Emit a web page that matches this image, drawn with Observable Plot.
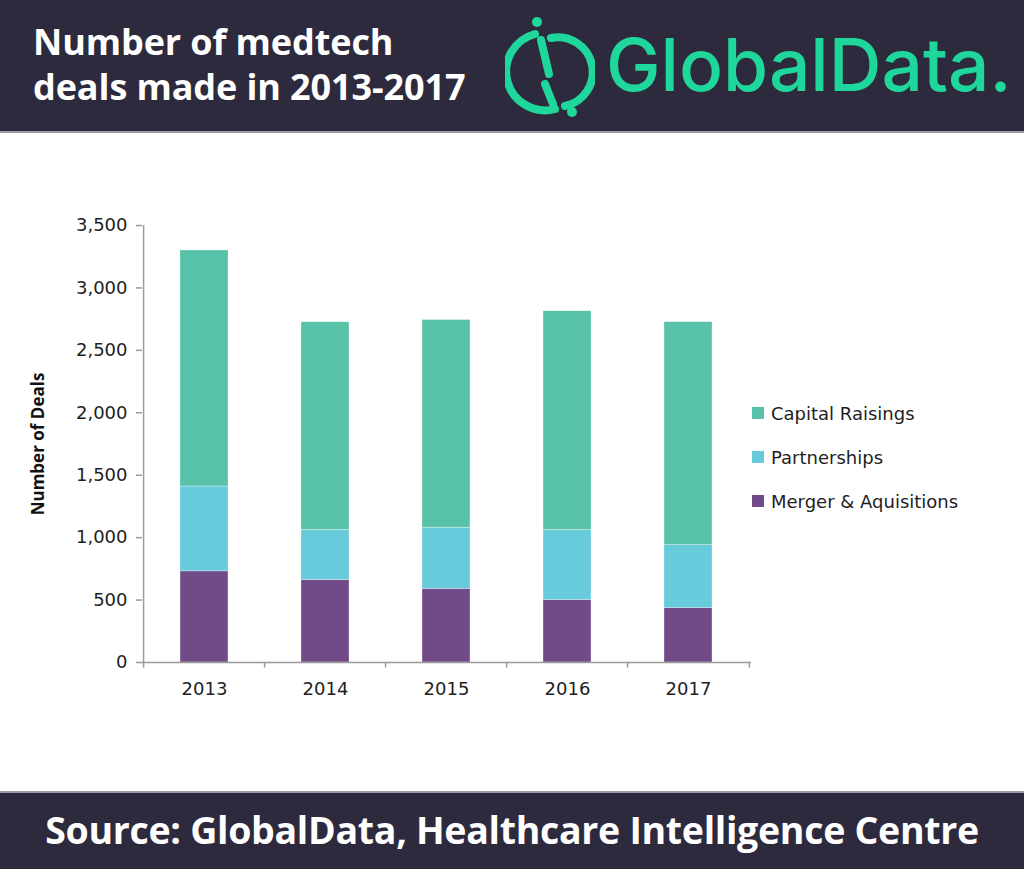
<!DOCTYPE html>
<html>
<head>
<meta charset="utf-8">
<script src="https://cdn.jsdelivr.net/npm/d3@7"></script>
<script src="https://cdn.jsdelivr.net/npm/@observablehq/plot@0.6"></script>
<style>
  html, body { margin: 0; padding: 0; background: #fff; }
  #page { position: relative; width: 1024px; height: 869px; overflow: hidden; font-family: "Open Sans", sans-serif; }
  #header { position: absolute; left: 0; top: 0; width: 1024px; height: 133px; background: #2d2a3e; border-bottom: 2px solid #9c9aa6; box-sizing: border-box; }
  .tline { position: absolute; left: 33px; color: #fff; font-weight: 700; font-size: 36px; line-height: 40px; height: 40px; letter-spacing: -0.1px; white-space: nowrap; }
  #t1 { top: 22px; }
  #t2 { top: 67px; }
  #logoText { position: absolute; left: 606px; top: 20px; color: #1fd69b; font-family: Inter, sans-serif; font-weight: 500; font-size: 73px; letter-spacing: 0px; line-height: 90px; }
  #logoIcon { position: absolute; left: 505px; top: 12px; }
  #footer { position: absolute; left: 0; top: 791px; width: 1024px; height: 78px; background: #2d2a3e; border-top: 2px solid #9c9aa6; box-sizing: border-box; color: #fff; font-weight: 700; font-size: 37.5px; text-align: center; line-height: 74px; letter-spacing: -0.3px; }
  #chart { position: absolute; left: 0; top: 133px; }
  #legend { position: absolute; left: 752px; top: 391px; font-size: 18px; color: #1e1e1e; font-family: "DejaVu Sans", sans-serif; }
  .item { display: flex; align-items: center; height: 44px; }
  .sw { width: 12px; height: 12px; margin-right: 7px; }
</style>
</head>
<body>
<div id="page">
  <div id="header">
    <div class="tline" id="t1">Number of medtech</div>
    <div class="tline" id="t2">deals made in 2013-2017</div>
    <svg id="logoIcon" width="90" height="110" viewBox="0 0 90 110">
      <path d="M 30 22 A 33 33 0 0 0 50 97" fill="none" stroke="#1fd69b" stroke-width="8" stroke-linecap="round"/>
      <path d="M 46 26 A 33 33 0 0 1 60 94" fill="none" stroke="#1fd69b" stroke-width="8" stroke-linecap="round"/>
      <path d="M 36 28 L 44 62" fill="none" stroke="#1fd69b" stroke-width="8" stroke-linecap="round"/>
      <path d="M 40 72 L 48 92" fill="none" stroke="#1fd69b" stroke-width="8" stroke-linecap="round"/>
      <circle cx="32" cy="10" r="5" fill="#1fd69b"/>
      <circle cx="67" cy="100" r="5" fill="#1fd69b"/>
    </svg>
    <div id="logoText">GlobalData.</div>
  </div>
  <div id="chart"></div>
  <div id="legend"></div>
  <div id="footer">Source: GlobalData, Healthcare Intelligence Centre</div>
</div>
<script>
const years = ["2013", "2014", "2015", "2016", "2017"];
const series = ["Capital Raisings", "Partnerships", "Merger & Aquisitions"];
const colors = ["#57c2a8", "#68cbdb", "#714b87"];
const mergers = [730, 660, 590, 500, 435];
const partnerships = [680, 402, 490, 562, 505];
const capitalRaisings = [1890, 1663, 1663, 1751, 1786];
const yTicks = [0, 500, 1000, 1500, 2000, 2500, 3000, 3500];

const rows = [];
years.forEach((y, i) => {
  rows.push({year: y, series: "Merger & Aquisitions", value: mergers[i]});
  rows.push({year: y, series: "Partnerships", value: partnerships[i]});
  rows.push({year: y, series: "Capital Raisings", value: capitalRaisings[i]});
});

const W = 1024, H = 658, mL = 142, mR = 273, mT = 92, mB = 129;
const step = (W - mL - mR) / years.length;
const stackOrder = ["Merger & Aquisitions", "Partnerships", "Capital Raisings"];

const chart = Plot.plot({
  width: W, height: H,
  marginLeft: mL, marginRight: mR, marginTop: mT, marginBottom: mB,
  style: {fontFamily: "'DejaVu Sans', sans-serif", fontSize: "18px", color: "#1e1e1e", background: "transparent"},
  x: {domain: years, paddingInner: 0.6, paddingOuter: 0.3},
  y: {domain: [0, 3500]},
  color: {domain: series, range: colors},
  marks: [
    Plot.barY(rows, {x: "year", y: "value", fill: "series", order: stackOrder, stroke: "#ffffff", strokeWidth: 0.6, strokeOpacity: 0.5}),
    Plot.ruleX([years[0]], {dx: -step / 2, y1: 0, y2: 3500, stroke: "#9a9a9a", strokeWidth: 1.5}),
    Plot.ruleY([0], {stroke: "#9a9a9a", strokeWidth: 1.5}),
    Plot.ruleX(years, {dx: -step / 2, y1: 0, y2: -45, stroke: "#9a9a9a", strokeWidth: 1.5}),
    Plot.ruleX([years[years.length - 1]], {dx: step / 2, y1: 0, y2: -45, stroke: "#9a9a9a", strokeWidth: 1.5}),
    Plot.axisY({ticks: yTicks, tickFormat: d3.format(","), tickSize: 6, tickPadding: 9, stroke: "#9a9a9a", strokeWidth: 1.5, label: null}),
    Plot.axisX({tickSize: 0, tickPadding: 20, label: null}),
    Plot.text(["Number of Deals"], {frameAnchor: "left", textAnchor: "middle", dx: -104, rotate: -90, fontWeight: 700, fontSize: 17, fill: "#111", fontFamily: "'Open Sans', sans-serif"})
  ]
});
document.getElementById("chart").appendChild(chart);

const legend = document.getElementById("legend");
series.forEach((s, i) => {
  const item = document.createElement("div");
  item.className = "item";
  const sw = document.createElement("div");
  sw.className = "sw";
  sw.style.background = colors[i];
  const t = document.createElement("span");
  t.textContent = s;
  item.appendChild(sw); item.appendChild(t);
  legend.appendChild(item);
});
</script>
</body>
</html>
